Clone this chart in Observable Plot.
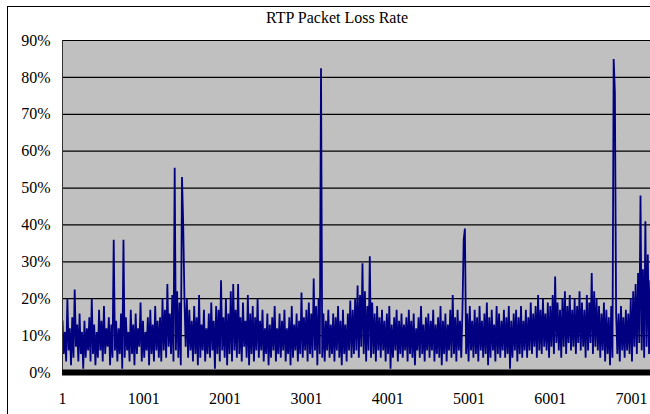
<!DOCTYPE html>
<html>
<head>
<meta charset="utf-8">
<script src="https://cdn.jsdelivr.net/npm/d3@7"></script>
<script src="https://cdn.jsdelivr.net/npm/@observablehq/plot@0.6"></script>
<style>
  html, body { margin: 0; padding: 0; background: #fff; overflow: hidden; }
  #wrap { position: relative; width: 650px; height: 414px; overflow: hidden; }
  #frame { position: absolute; left: 7px; top: 6px; width: 700px; height: 500px;
           border-left: 1px solid #000; border-top: 1px solid #000; pointer-events: none; }
  #title { position: absolute; left: 0; top: 9px; width: 674px; text-align: center;
           font-family: "Liberation Serif", "Times New Roman", serif; font-size: 16px; color: #000; }
</style>
</head>
<body>
<div id="wrap">
  <div id="chart"></div>
  <div id="title">RTP Packet Loss Rate</div>
  <div id="frame"></div>
</div>
<script>
// ---- data ----
const titleText = "RTP Packet Loss Rate";
const xTickLabels = [1, 1001, 2001, 3001, 4001, 5001, 6001, 7001];
const yTickValues = [0, 0.1, 0.2, 0.3, 0.4, 0.5, 0.6, 0.7, 0.8, 0.9];
const sampleStep = 30; // packets per hi/lo pair
// upper readings (%), one per pair
const hiValues = [
  14, 11, 20, 12, 15, 22.5, 13, 16, 11, 14,
  12, 15, 20, 13, 11, 17, 14, 18, 12, 15,
  13, 36, 14, 12, 16, 36, 15, 11, 17, 13,
  16, 12, 19, 14, 11, 15, 17, 13, 18, 14,
  15, 20, 17, 24, 16, 21, 55.5, 22, 19, 53,
  20, 20, 17, 14, 18, 15, 21, 13, 17, 12,
  16, 19, 14, 18, 17, 25, 15, 20, 16, 22,
  24, 17, 24, 15, 19, 14, 21, 16, 18, 15,
  20, 14, 17, 12, 16, 13, 15, 18, 12, 16,
  14, 17, 12, 15, 18, 13, 16, 14, 21.7, 15,
  17, 19, 16, 25.5, 18, 20, 82.5, 16, 14, 17,
  13, 16, 15, 18, 14, 17, 13, 16, 19.5, 17,
  20, 23.6, 21, 29.6, 22, 18, 31.5, 19, 16, 18,
  15, 17, 14, 16, 18, 13, 15, 17, 14, 16,
  13, 15, 17, 14, 16, 12, 15, 18, 13, 15,
  16, 14, 17, 13, 15, 18, 14, 16, 13, 17,
  21, 15, 17, 14, 17, 39, 16, 18, 14, 17,
  15, 18, 14, 16, 19, 15, 17, 13, 18, 16,
  14, 17, 15, 18, 14, 16, 17, 15, 18, 14,
  17, 15, 19, 16, 18, 21, 17, 20, 16, 19,
  18, 21, 26, 19, 17, 20, 22, 18, 21, 17,
  20, 18, 22, 19, 17, 21, 19, 27, 22, 20,
  18, 16, 19, 17, 15, 18, 85, 16, 16, 18,
  15, 17, 16, 20, 22, 24, 27, 48, 28, 41,
  32, 25, 28, 22, 24, 20
];
// lower readings (%), one per pair
const loValues = [
  5, 3, 6, 2, 4, 7, 3, 5, 1, 4,
  6, 3, 5, 2, 4, 6, 3, 5, 7, 2,
  4, 6, 3, 5, 1, 4, 6, 3, 5, 2,
  5, 7, 3, 4, 6, 2, 5, 3, 6, 4,
  3, 6, 4, 7, 5, 3, 6, 4, 2, 40,
  7, 4, 6, 3, 5, 2, 4, 6, 3, 5,
  4, 6, 1, 5, 3, 6, 4, 2, 5, 3,
  6, 4, 5, 3, 7, 4, 2, 5, 3, 6,
  4, 6, 3, 5, 2, 4, 6, 3, 5, 4,
  6, 3, 5, 2, 4, 6, 3, 5, 4, 6,
  3, 5, 4, 6, 2, 5, 4, 3, 6, 4,
  5, 3, 6, 4, 2, 5, 3, 6, 4, 5,
  6, 4, 7, 5, 3, 6, 4, 5, 3, 6,
  4, 6, 3, 5, 1, 4, 6, 3, 5, 4,
  6, 3, 5, 4, 2, 6, 4, 5, 3, 6,
  4, 6, 3, 5, 4, 2, 5, 3, 6, 4,
  5, 3, 6, 4, 36, 5, 3, 6, 4, 5,
  3, 6, 4, 5, 2, 4, 6, 3, 5, 4,
  6, 4, 5, 1, 4, 6, 3, 5, 4, 6,
  4, 6, 5, 7, 4, 6, 5, 7, 6, 4,
  7, 5, 8, 6, 4, 7, 5, 8, 6, 7,
  5, 8, 6, 7, 4, 6, 8, 5, 7, 6,
  4, 6, 3, 5, 2, 4, 76, 5, 3, 6,
  4, 6, 5, 3, 7, 5, 8, 6, 4, 7,
  5, 7, 6, 8, 5, 6
];

// ---- build series ----
const series = [];
hiValues.forEach((h, i) => {
  series.push({packet: 1 + i * sampleStep, rate: h / 100});
  series.push({packet: 1 + i * sampleStep + sampleStep / 2, rate: loValues[i] / 100});
});

document.getElementById("title").textContent = titleText;

const font = '"Liberation Serif", "Times New Roman", serif';
const chart = Plot.plot({
  width: 650,
  height: 414,
  marginLeft: 62,
  marginRight: 0,
  marginTop: 40,
  marginBottom: 42,
  style: {fontFamily: font, fontSize: "16px", color: "#000", background: "transparent", overflow: "hidden"},
  x: {domain: [1, 7234], ticks: xTickLabels, tickFormat: d => String(d), tickSize: 0, tickPadding: 20, label: null},
  y: {domain: [0, 0.9], ticks: yTickValues, tickFormat: d3.format(".0%"), tickSize: 0, tickPadding: 12, label: null},
  marks: [
    Plot.frame({fill: "#c0c0c0", stroke: null}),
    Plot.ruleY(yTickValues.filter(d => d > 0), {stroke: "#000", strokeWidth: 1.2}),
    Plot.line(series, {x: "packet", y: "rate", stroke: "#000080", strokeWidth: 1.8, strokeLinejoin: "miter", strokeMiterlimit: 2, clip: true}),
    Plot.ruleX([1], {stroke: "#333", strokeWidth: 1}),
    Plot.ruleY([0], {stroke: "#000", strokeWidth: 6})
  ]
});
document.getElementById("chart").appendChild(chart);
</script>
</body>
</html>
